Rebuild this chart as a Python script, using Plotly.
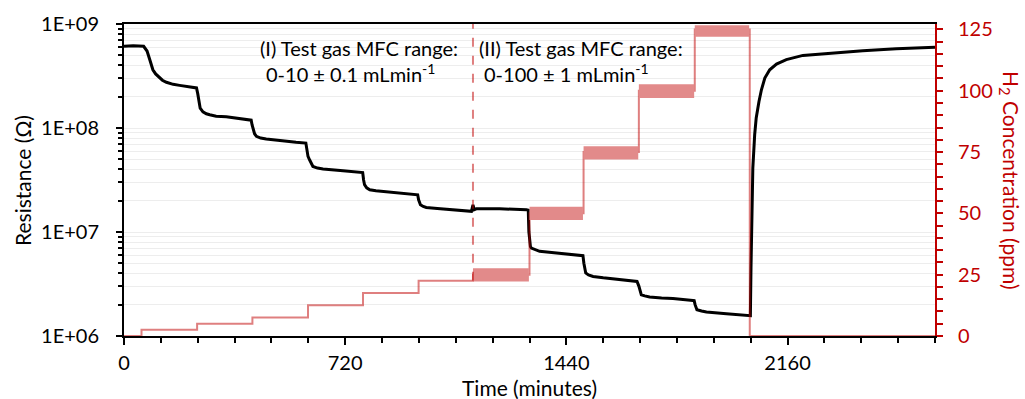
import plotly.graph_objects as go

# ---------------- data ----------------
time_min = [0, 30, 64, 75, 84, 94, 103, 111, 125, 138, 160, 181, 210, 236,
            240, 244, 248, 257, 268, 279, 300, 333, 370, 404, 414,
            417, 420, 425, 431, 445, 463, 500, 529, 560, 592,
            596, 599, 604, 610, 615, 630, 648, 713, 773, 777,
            780, 783, 790, 800, 820, 854, 900, 952, 956,
            959, 965, 974, 984, 1020, 1060, 1100, 1131, 1136, 1140, 1147, 1223, 1310, 1316,
            1318, 1320, 1323, 1326, 1340, 1353, 1400, 1440, 1494,
            1497, 1500, 1503, 1512, 1527, 1560, 1603, 1670,
            1676, 1680, 1684, 1695, 1711, 1750, 1787, 1852, 1856,
            1859, 1862, 1865, 1880, 1896, 1961, 2034,
            2039, 2041, 2044, 2047, 2053, 2058, 2067, 2075, 2086, 2102, 2124, 2156,
            2210, 2297, 2405, 2514, 2633, 2640]
resistance_ohm = [6.10e8, 6.17e8, 6.10e8, 5.50e8, 4.54e8, 3.63e8, 3.31e8, 3.13e8, 2.88e8, 2.75e8, 2.63e8, 2.57e8, 2.48e8, 2.43e8,
                  2.14e8, 1.74e8, 1.55e8, 1.43e8, 1.37e8, 1.34e8, 1.30e8, 1.28e8, 1.24e8, 1.20e8, 1.19e8,
                  1.07e8, 9.64e7, 8.81e7, 8.32e7, 8.00e7, 7.83e7, 7.59e7, 7.43e7, 7.28e7, 7.16e7,
                  6.31e7, 5.33e7, 4.95e7, 4.47e7, 4.27e7, 4.12e7, 4.04e7, 3.89e7, 3.74e7, 3.73e7,
                  3.16e7, 2.85e7, 2.66e7, 2.55e7, 2.49e7, 2.44e7, 2.36e7, 2.29e7, 2.28e7,
                  2.04e7, 1.83e7, 1.76e7, 1.72e7, 1.68e7, 1.64e7, 1.60e7, 1.58e7, 1.82e7, 1.64e7, 1.67e7, 1.67e7, 1.64e7, 1.62e7,
                  1.00e7, 7.83e6, 7.24e6, 7.01e6, 6.70e6, 6.52e6, 6.31e6, 6.18e6, 5.92e6,
                  5.01e6, 4.27e6, 4.04e6, 3.87e6, 3.74e6, 3.63e6, 3.53e6, 3.35e6,
                  3.02e6, 2.63e6, 2.49e6, 2.43e6, 2.37e6, 2.32e6, 2.29e6, 2.20e6, 2.19e6,
                  2.00e6, 1.84e6, 1.79e6, 1.74e6, 1.70e6, 1.64e6, 1.57e6,
                  1.57e6, 4.51e6, 1.97e7, 4.12e7, 8.63e7, 1.25e8, 1.80e8, 2.33e8, 3.02e8, 3.63e8, 4.12e8, 4.54e8,
                  4.99e8, 5.26e8, 5.53e8, 5.78e8, 5.96e8, 5.97e8]

# H2 concentration set-points (step changes)
step_times = [0, 57, 238, 418, 599, 778, 959, 1136, 1320, 1496, 1676, 1858, 2037, 2640]
step_ppm = [0, 2.5, 5, 7.5, 12.5, 17.5, 22.5, 25, 50, 75, 100, 125, 0, 0]

# noise range of the concentration signal in part (II)
band_start = [1136, 1320, 1496, 1676, 1858]
band_end = [1318, 1494, 1674, 1856, 2035]
band_low = [22.2, 47.3, 72.0, 97.0, 122.0]
band_high = [27.6, 52.7, 77.4, 102.6, 126.7]

mfc_switch_time = 1136

x_ticks = [0, 720, 1440, 2160]
y_ticks = [1e6, 1e7, 1e8, 1e9]
y_ticktext = ["1E+06", "1E+07", "1E+08", "1E+09"]
y2_ticks = [0, 25, 50, 75, 100, 125]

# ---------------- figure ----------------
FONT = "Lato"
RED = "#C00000"
RED_A = "rgba(192,0,0,0.5)"
BAND = "#E28A8A"

fig = go.Figure()

fig.add_trace(go.Scatter(x=time_min, y=resistance_ohm, mode="lines",
                         line=dict(color="black", width=3), yaxis="y",
                         hoverinfo="skip"))

fig.add_trace(go.Scatter(x=step_times, y=step_ppm, mode="lines",
                         line=dict(color=RED_A, width=2, shape="hv"),
                         yaxis="y2", hoverinfo="skip"))

for s, e, lo, hi in zip(band_start, band_end, band_low, band_high):
    fig.add_trace(go.Scatter(x=[s, e, e, s, s], y=[lo, lo, hi, hi, lo],
                             mode="lines", fill="toself", fillcolor=BAND,
                             line=dict(width=0, color=BAND), yaxis="y2",
                             hoverinfo="skip"))

minor_vals = [m * 10 ** e for e in (6, 7, 8) for m in range(2, 10)]

fig.update_layout(
    width=1025, height=399,
    margin=dict(l=124, r=90, t=24, b=63),
    paper_bgcolor="white", plot_bgcolor="white",
    showlegend=False,
    font=dict(family=FONT, size=20, color="black"),
    xaxis=dict(range=[0, 2640], tickvals=x_ticks, ticks="outside", ticklen=7,
               tickwidth=2, tickcolor="black",
               showline=True, linecolor="black", linewidth=2, mirror=True,
               showgrid=False, zeroline=False, layer="below traces",
               minor=dict(dtick=120, tick0=0, ticks="outside", ticklen=5,
                          tickwidth=1.5, tickcolor="black", showgrid=False),
               tickfont=dict(family=FONT, size=20, color="black"),
               ticklabelstandoff=1),
    yaxis=dict(type="log", range=[6, 9], tickvals=y_ticks, ticktext=y_ticktext,
               ticks="outside", ticklen=6, tickwidth=2, tickcolor="black",
               showline=True, linecolor="black", linewidth=2,
               showgrid=True, gridcolor="#EDEDED", gridwidth=1, zeroline=False,
               minor=dict(tickvals=minor_vals, ticks="outside", ticklen=4,
                          tickwidth=1.5, tickcolor="black", showgrid=True,
                          gridcolor="#EDEDED", gridwidth=1),
               tickfont=dict(family=FONT, size=20, color="black"),
               ticklabelstandoff=13),
    yaxis2=dict(overlaying="y", side="right", range=[0, 127.2],
                tickvals=y2_ticks, ticks="outside", ticklen=6, tickwidth=2,
                tickcolor=RED, showline=True, linecolor=RED, linewidth=2,
                showgrid=False, zeroline=False,
                minor=dict(dtick=5, tick0=0, ticks="outside", ticklen=6,
                           tickwidth=1.5, tickcolor=RED, showgrid=False),
                tickfont=dict(family=FONT, size=20, color=RED),
                ticklabelstandoff=11),
)

fig.add_shape(type="line", xref="x", yref="y2", x0=mfc_switch_time, x1=mfc_switch_time,
              y0=step_ppm[6], y1=127.2,
              line=dict(color=RED_A, width=2, dash="dash"))

ann = [
    dict(text="(I) Test gas MFC range:", x=0.1652, y=0.923, xanchor="left"),
    dict(text="0-10 ± 0.1 mLmin<sup>-1</sup>", x=0.1726, y=0.843, xanchor="left"),
    dict(text="(II) Test gas MFC range:", x=0.4353, y=0.923, xanchor="left"),
    dict(text="0-100 ± 1 mLmin<sup>-1</sup>", x=0.4414, y=0.843, xanchor="left"),
]
for a in ann:
    fig.add_annotation(xref="paper", yref="paper", yanchor="middle", showarrow=False,
                       font=dict(family=FONT, size=20, color="black"), **a)

fig.add_annotation(text="Resistance (Ω)", xref="paper", yref="paper", x=-0.1258, y=0.5,
                   textangle=-90, showarrow=False, xanchor="center", yanchor="middle",
                   font=dict(family=FONT, size=21, color="black"))
fig.add_annotation(text="Time (minutes)", xref="paper", yref="paper", x=0.5, y=-0.165,
                   showarrow=False, xanchor="center", yanchor="middle",
                   font=dict(family=FONT, size=21, color="black"))
fig.add_annotation(text="H<sub>2</sub> Concentration (ppm)", xref="paper", yref="paper",
                   x=1.0925, y=0.5, textangle=90, showarrow=False,
                   xanchor="center", yanchor="middle",
                   font=dict(family=FONT, size=21, color=RED))

fig.write_html("out.html")
